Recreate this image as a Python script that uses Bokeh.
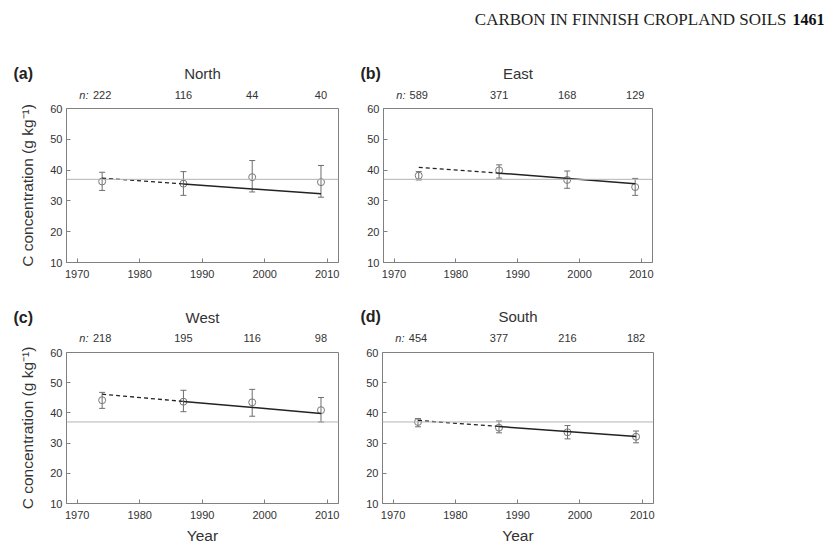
from bokeh.plotting import figure
from bokeh.models import (ColumnDataSource, Whisker, TeeHead, Span,
                          FixedTicker, Range1d)
from bokeh.core.properties import value
from bokeh.layouts import row, column
from bokeh.embed import file_html
from bokeh.resources import INLINE

# ---------------- data ----------------
years = [1974, 1987, 1998, 2009]
trend_years = [1974, 1987, 2009]
x_ticks = [1970, 1980, 1990, 2000, 2010]
y_ticks = [10, 20, 30, 40, 50, 60]
reference_level = 37

regions = ["North", "East", "West", "South"]
letters = ["(a)", "(b)", "(c)", "(d)"]

north_n = [222, 116, 44, 40]
north_mean = [36.3, 35.6, 37.7, 36.1]
north_lower = [33.4, 31.8, 32.9, 31.2]
north_upper = [39.3, 39.5, 43.1, 41.5]
north_trend = [37.4, 35.5, 32.3]

east_n = [589, 371, 168, 129]
east_mean = [38.2, 39.9, 36.8, 34.5]
east_lower = [36.8, 37.4, 34.1, 31.8]
east_upper = [39.5, 41.7, 39.7, 37.3]
east_trend = [40.9, 39.0, 35.6]

west_n = [218, 195, 116, 98]
west_mean = [44.2, 43.7, 43.5, 40.9]
west_lower = [41.5, 40.4, 38.9, 37.0]
west_upper = [46.8, 47.5, 47.8, 45.1]
west_trend = [46.2, 43.8, 39.8]

south_n = [454, 377, 216, 182]
south_mean = [37.0, 35.1, 33.6, 32.1]
south_lower = [35.4, 33.4, 31.4, 30.1]
south_upper = [38.1, 37.3, 35.8, 34.0]
south_trend = [37.5, 35.5, 32.2]

header_text = "CARBON IN FINNISH CROPLAND SOILS"
page_number = "1461"
y_label = "C concentration (g kg\u207b\u00b9)"
x_label = "Year"

series = [
    (north_n, north_mean, north_lower, north_upper, north_trend),
    (east_n, east_mean, east_lower, east_upper, east_trend),
    (west_n, west_mean, west_lower, west_upper, west_trend),
    (south_n, south_mean, south_lower, south_upper, south_trend),
]

# ---------------- layout geometry (page pixel coords) ----------------
X0, X1 = 1968.3, 2011.8
Y0, Y1 = 10, 60
SANS = "Liberation Sans"
GRAY = "#808080"
TXT = "#333333"

# canvas: cl, ct, W, H ; frame: left, top, w, h ; strip above: st, sh
geom = [
    dict(cl=0, ct=101, W=345, H=189, left=66, top=108, w=272, h=154,
         st=0, sh=101, title_y=73, n_y=94.5, letter_x=13, ylab=True, xlab=False),
    dict(cl=345, ct=101, W=480, H=189, left=383, top=108, w=269, h=154,
         st=0, sh=101, title_y=73, n_y=94.5, letter_x=360, ylab=False, xlab=False),
    dict(cl=0, ct=345, W=345, H=201, left=66, top=352, w=272, h=152,
         st=290, sh=55, title_y=317, n_y=337.5, letter_x=13, ylab=True, xlab=True),
    dict(cl=345, ct=345, W=480, H=201, left=382, top=351, w=271, h=153,
         st=290, sh=55, title_y=316, n_y=337.5, letter_x=360, ylab=False, xlab=True),
]


def px_to_year(px, g):
    return X0 + (px - g["left"]) / g["w"] * (X1 - X0)


panels = []
strips = []
for i, g in enumerate(geom):
    n_vals, mean, lower, upper, trend = series[i]

    # ---------- text strip above the panel ----------
    s = figure(width=g["W"], height=g["sh"],
               x_range=Range1d(px_to_year(g["cl"], g), px_to_year(g["cl"] + g["W"], g)),
               y_range=Range1d(g["st"] + g["sh"], g["st"]),
               x_axis_type=None, y_axis_type=None, output_backend="svg",
               toolbar_location=None, min_border=0)
    s.outline_line_color = None
    s.xgrid.visible = False
    s.ygrid.visible = False
    s.background_fill_color = "white"
    s.border_fill_color = "white"
    s.text(x=[px_to_year(g["letter_x"], g)], y=[g["title_y"]], text=[letters[i]],
           text_font=value(SANS), text_font_size=value("16px"),
           text_font_style="bold", text_color="#222222",
           text_align="left", text_baseline="middle")
    s.text(x=[(X0 + X1) / 2], y=[g["title_y"]], text=[regions[i]],
           text_font=value(SANS), text_font_size=value("15px"),
           text_color=TXT, text_align="center", text_baseline="middle")
    s.text(x=[px_to_year(g["left"] + 22, g)], y=[g["n_y"]], text=["n:"],
           text_font=value(SANS), text_font_size=value("11px"),
           text_font_style="italic", text_color=TXT,
           text_align="right", text_baseline="middle")
    s.text(x=years, y=[g["n_y"]] * len(years), text=[str(v) for v in n_vals],
           text_font=value(SANS), text_font_size=value("11px"),
           text_color=TXT, text_align="center", text_baseline="middle")
    if i == 1:
        s.text(x=[px_to_year(786, g)], y=[19], text=[header_text],
               text_font=value("Liberation Serif"), text_font_size=value("17px"),
               text_color="#222222", text_align="right", text_baseline="middle")
        s.text(x=[px_to_year(824, g)], y=[19], text=[page_number],
               text_font=value("Liberation Serif"), text_font_size=value("16px"),
               text_font_style="bold", text_color="#111111",
               text_align="right", text_baseline="middle")
    strips.append(s)

    # ---------- the panel ----------
    b_left = g["left"] - g["cl"]
    b_top = g["top"] - g["ct"]
    b_right = g["W"] - b_left - g["w"]
    b_bottom = g["H"] - b_top - g["h"]
    p = figure(width=g["W"], height=g["H"], x_range=Range1d(X0, X1),
               y_range=Range1d(Y0, Y1), output_backend="svg",
               toolbar_location=None, min_border_left=b_left,
               min_border_right=b_right, min_border_top=b_top,
               min_border_bottom=b_bottom)
    p.xgrid.visible = False
    p.ygrid.visible = False
    p.outline_line_color = GRAY
    p.outline_line_width = 1
    p.background_fill_color = "white"
    p.border_fill_color = "white"

    for ax in (p.xaxis[0], p.yaxis[0]):
        ax.axis_line_color = GRAY
        ax.major_tick_line_color = GRAY
        ax.major_tick_in = 4
        ax.major_tick_out = 0
        ax.minor_tick_in = 0
        ax.minor_tick_out = 0
        ax.minor_tick_line_color = None
        ax.major_label_text_font = SANS
        ax.major_label_text_font_size = "11px"
        ax.major_label_text_color = TXT
    p.xaxis.ticker = FixedTicker(ticks=x_ticks, minor_ticks=[])
    p.yaxis.ticker = FixedTicker(ticks=y_ticks, minor_ticks=[])
    p.xaxis.major_label_standoff = 7
    p.yaxis.major_label_standoff = 4
    if g["ylab"]:
        p.yaxis.axis_label = y_label
        p.yaxis.axis_label_text_font = SANS
        p.yaxis.axis_label_text_font_size = "15.5px"
        p.yaxis.axis_label_text_font_style = "normal"
        p.yaxis.axis_label_text_color = TXT
        p.yaxis.axis_label_standoff = 11
    if g["xlab"]:
        p.xaxis.axis_label = x_label
        p.xaxis.axis_label_text_font = SANS
        p.xaxis.axis_label_text_font_size = "15.5px"
        p.xaxis.axis_label_text_font_style = "normal"
        p.xaxis.axis_label_text_color = TXT
        p.xaxis.axis_label_standoff = 5

    # reference line
    p.add_layout(Span(location=reference_level, dimension="width",
                      line_color="#b4b4b4", line_width=1))

    src = ColumnDataSource(dict(year=years, mean=mean, lower=lower, upper=upper))
    wh = Whisker(source=src, base="year", upper="upper", lower="lower",
                 line_color="#6e6e6e", line_width=1,
                 upper_head=TeeHead(size=6, line_color="#6e6e6e", line_width=1),
                 lower_head=TeeHead(size=6, line_color="#6e6e6e", line_width=1))
    p.add_layout(wh)
    p.scatter("year", "mean", source=src, marker="circle", size=7,
              fill_color=None, line_color="#777777", line_width=1)

    # trend lines: dashed before the second survey, solid afterwards
    p.line(trend_years[:2], trend[:2], line_color="#222222", line_width=1.3,
           line_dash="4 3")
    p.line(trend_years[1:], trend[1:], line_color="#222222", line_width=1.5)
    panels.append(p)

layout = column(row(strips[0], strips[1]), row(panels[0], panels[1]),
                row(strips[2], strips[3]), row(panels[2], panels[3]))
open("out.html", "w").write(file_html(layout, INLINE))
